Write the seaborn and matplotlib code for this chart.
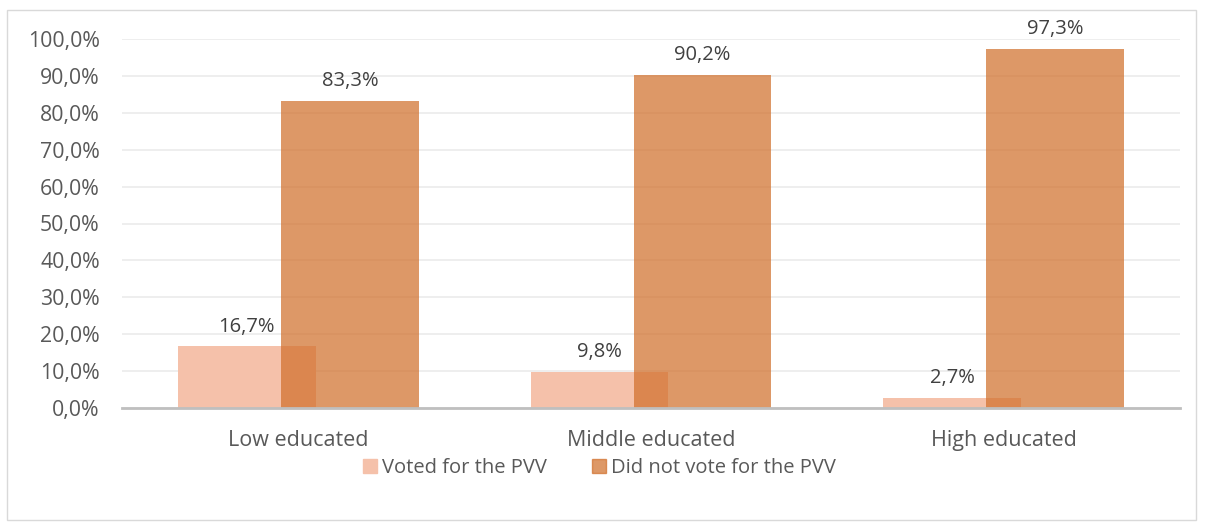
import matplotlib
matplotlib.use("Agg")
import matplotlib.pyplot as plt
import matplotlib.patches as mpatches
import numpy as np
import pandas as pd
import seaborn as sns

categories = ["Low educated", "Middle educated", "High educated"]
voted = [16.7, 9.8, 2.7]
not_voted = [83.3, 90.2, 97.3]
series_names = ["Voted for the PVV", "Did not vote for the PVV"]
y_ticks = [0, 10, 20, 30, 40, 50, 60, 70, 80, 90, 100]

light_col = "#F5C1AA"
dark_col = "#D1702C"
text_col = "#595959"

sns.set_theme(style="white")
plt.rcParams["font.family"] = ["Open Sans", "DejaVu Sans"]

fig = plt.figure(figsize=(12.06, 5.25), dpi=100)
ax = fig.add_axes([122 / 1206, 1 - 408 / 525, (1180 - 122) / 1206, (408 - 39) / 525])

pos = np.arange(len(categories))
offset = 0.146
bar_w = 0.39

df_v = pd.DataFrame({"x": pos - offset, "y": voted})
df_n = pd.DataFrame({"x": pos + offset, "y": not_voted})

sns.barplot(data=df_v, x="x", y="y", native_scale=True, width=bar_w,
            color=light_col, saturation=1, ax=ax, zorder=2, linewidth=0)
sns.barplot(data=df_n, x="x", y="y", native_scale=True, width=bar_w,
            color=dark_col, saturation=1, alpha=0.72, ax=ax, zorder=3, linewidth=0)

# Value labels with comma decimals
for cont in ax.containers:
    labels = [f"{b.get_height():.1f}%".replace(".", ",") for b in cont]
    ax.bar_label(cont, labels=labels, padding=7, fontsize=14.5, color="#404040")

ax.set_xlim(-0.5, 2.5)
ax.set_ylim(0, 100)
ax.set_xticks(pos)
ax.set_xticklabels(categories, fontsize=15.5, color=text_col)
ax.set_yticks(y_ticks)
ax.set_yticklabels([f"{t:.1f}%".replace(".", ",") for t in y_ticks],
                   fontsize=15.3, color=text_col)
ax.set_xlabel("")
ax.set_ylabel("")
ax.tick_params(axis="x", length=0, pad=16)
ax.tick_params(axis="y", length=0, pad=16)

ax.yaxis.grid(True, color="#EBEBEB", linewidth=1.2, zorder=0)
ax.set_axisbelow(True)
for side in ["top", "right", "left"]:
    ax.spines[side].set_visible(False)
ax.spines["bottom"].set_color("#BFBFBF")
ax.spines["bottom"].set_linewidth(2)
ax.spines["bottom"].set_zorder(4)

handles = [mpatches.Patch(color=light_col, label=series_names[0]),
           mpatches.Patch(color=dark_col, alpha=0.72, label=series_names[1])]
leg = fig.legend(handles=handles, loc="center", bbox_to_anchor=(0.497, 1 - 468 / 525),
                 ncol=2, frameon=False, fontsize=14.5, handlelength=0.7, handleheight=0.7,
                 handletextpad=0.25, columnspacing=2.2)
for t in leg.get_texts():
    t.set_color(text_col)

# Outer chart frame
fig.patches.append(mpatches.Rectangle((7 / 1206, 1 - 520 / 525), (1196 - 7) / 1206, (520 - 10) / 525,
                                      transform=fig.transFigure, fill=False,
                                      edgecolor="#D9D9D9", linewidth=1))

fig.savefig("out.png", dpi=100)
